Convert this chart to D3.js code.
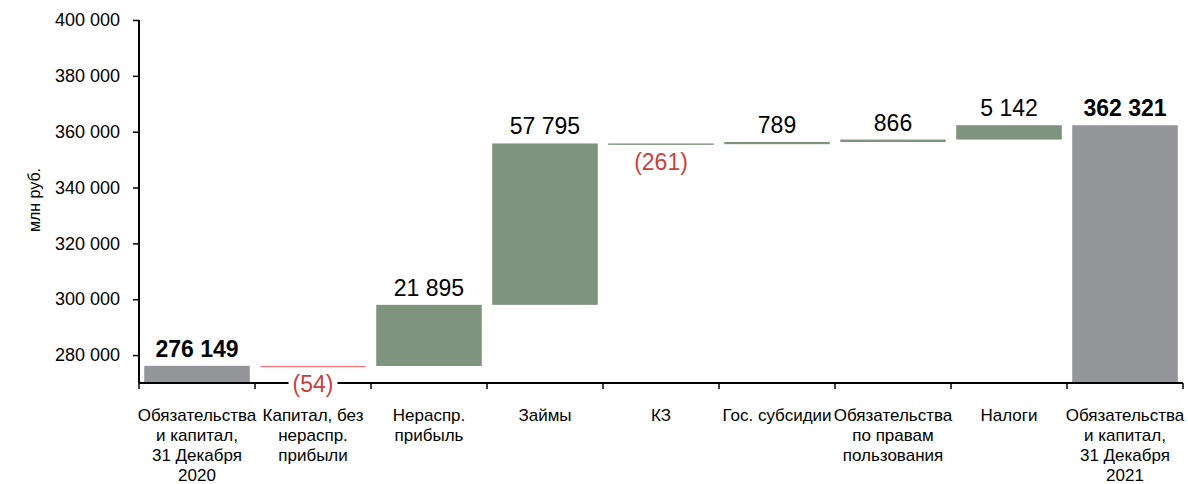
<!DOCTYPE html>
<html>
<head>
<meta charset="utf-8">
<script src="https://cdn.jsdelivr.net/npm/d3@7"></script>
<style>
  body { margin: 0; background: #fff; }
  svg { font-family: Arial, "Liberation Sans", sans-serif; }
</style>
</head>
<body>
<div id="chart"></div>
<script>
// waterfall data
const categories = [
  "Обязательства и капитал, 31 Декабря 2020",
  "Капитал, без нераспр. прибыли",
  "Нераспр. прибыль",
  "Займы",
  "КЗ",
  "Гос. субсидии",
  "Обязательства по правам пользования",
  "Налоги",
  "Обязательства и капитал, 31 Декабря 2021"
]
const xLines = [
  ["Обязательства", "и капитал,", "31 Декабря", "2020"],
  ["Капитал, без", "нераспр.", "прибыли"],
  ["Нераспр.", "прибыль"],
  ["Займы"],
  ["КЗ"],
  ["Гос. субсидии"],
  ["Обязательства", "по правам", "пользования"],
  ["Налоги"],
  ["Обязательства", "и капитал,", "31 Декабря", "2021"]
]
const values = [276149, -54, 21895, 57795, -261, 789, 866, 5142, 362321]
const isTotal = [true, false, false, false, false, false, false, false, true]
const yTicks = [280000, 300000, 320000, 340000, 360000, 380000, 400000]

const W = 1188, H = 484
const margin = {top: 20, right: 5, bottom: 101, left: 139}

const svg = d3.select('#chart').append('svg')
    .attr('width', W)
    .attr('height', H)

const x = d3.scaleBand()
    .domain(categories)
    .range([margin.left, 1183])
    .paddingInner(0.09)
    .paddingOuter(0.045)

const y = d3.scaleLinear()
    .domain([270000, 400000])
    .range([H - margin.bottom, margin.top])

// running totals
let run = 0
const bars = values.map(function (v, i) {
    let lo, hi
    if (isTotal[i]) { lo = y.domain()[0]; hi = v; run = v }
    else { lo = Math.min(run, run + v); hi = Math.max(run, run + v); run = run + v }
    return {cat: categories[i], v: v, lo: lo, hi: hi, total: isTotal[i], i: i}
})

const fmt = function (v) { return d3.format(',')(Math.abs(v)).replace(/,/g, ' ') }
const colorOf = function (d) {
    if (d.total) return '#939598'
    if (d.i === 1) return '#f07c7c'
    return '#7f937f'
}

// y axis
const yAxis = svg.append('g')
    .attr('transform', 'translate(' + margin.left + ',0)')
    .call(d3.axisLeft(y).tickValues(yTicks).tickSize(6).tickPadding(13)
        .tickFormat(function (d) { return fmt(d) }))
yAxis.select('.domain').remove()
yAxis.append('line')
    .attr('x1', 0).attr('x2', 0)
    .attr('y1', y(400000)).attr('y2', y(270000))
    .attr('stroke', '#000').attr('stroke-width', 2)
yAxis.selectAll('.tick line').attr('stroke', '#000').attr('stroke-width', 1.5)
yAxis.selectAll('.tick text').attr('font-size', 18).attr('fill', '#000')
    .attr('font-family', 'Arial, "Liberation Sans", sans-serif')

svg.append('text')
    .attr('transform', 'translate(40,' + 200 + ') rotate(-90)')
    .attr('text-anchor', 'middle')
    .attr('font-size', 16)
    .text('млн руб.')

// bars
svg.selectAll('rect.bar')
    .data(bars)
    .enter()
    .append('rect')
    .attr('class', 'bar')
    .attr('x', function (d) { return x(d.cat) })
    .attr('y', function (d) { return y(d.hi) })
    .attr('width', x.bandwidth())
    .attr('height', function (d) { return Math.max(1.4, y(d.lo) - y(d.hi)) })
    .attr('fill', colorOf)

// x axis
const x0 = y(270000)
const step = x.step()
const bounds = d3.range(categories.length + 1).map(function (k) { return margin.left + k * step })
svg.append('line')
    .attr('x1', margin.left).attr('x2', bounds[bounds.length - 1])
    .attr('y1', x0).attr('y2', x0)
    .attr('stroke', '#000').attr('stroke-width', 2)
svg.selectAll('line.xt')
    .data(bounds)
    .enter()
    .append('line')
    .attr('class', 'xt')
    .attr('x1', function (d) { return d }).attr('x2', function (d) { return d })
    .attr('y1', x0).attr('y2', x0 + 6)
    .attr('stroke', '#000').attr('stroke-width', 1.5)

// category labels
const catG = svg.selectAll('text.cat')
    .data(categories)
    .enter()
    .append('text')
    .attr('class', 'cat')
    .attr('text-anchor', 'middle')
    .attr('font-size', 17)
    .attr('fill', '#000')
catG.each(function (d, i) {
    d3.select(this).selectAll('tspan')
        .data(xLines[i])
        .enter()
        .append('tspan')
        .attr('x', x(d) + x.bandwidth() / 2)
        .attr('y', function (t, j) { return 421 + j * 20 })
        .text(function (t) { return t })
})

// value labels
bars.forEach(function (d) {
    const cx = x(d.cat) + x.bandwidth() / 2
    if (d.v < 0) {
        const t = svg.append('text')
            .attr('x', cx)
            .attr('y', y(d.lo) + 26)
            .attr('text-anchor', 'middle')
            .attr('font-size', 23)
            .attr('fill', '#c8423c')
            .text('(' + fmt(d.v) + ')')
        const bb = t.node().getBBox()
        svg.insert('rect', function () { return t.node() })
            .attr('x', bb.x - 4).attr('y', bb.y)
            .attr('width', bb.width + 8).attr('height', bb.height)
            .attr('fill', '#fff')
    } else {
        svg.append('text')
            .attr('x', cx)
            .attr('y', y(d.hi) - 9)
            .attr('text-anchor', 'middle')
            .attr('font-size', 23)
            .attr('font-weight', d.total ? 'bold' : 'normal')
            .attr('fill', '#000')
            .text(fmt(d.v))
    }
})
</script>
</body>
</html>
